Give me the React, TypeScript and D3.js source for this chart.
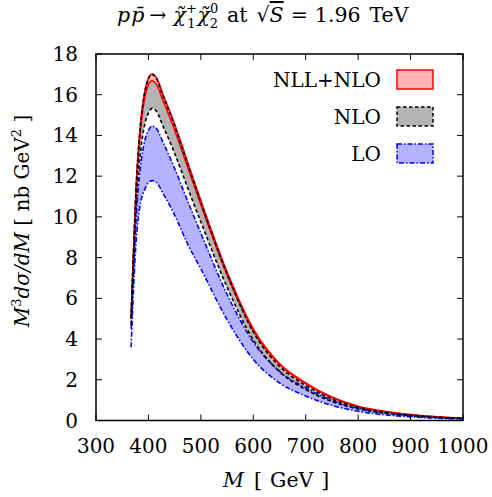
import React from "react";
import * as d3 from "d3";

const masses = [367, 370, 373, 376, 380, 385, 393, 400, 407, 415, 428, 448, 476, 500, 550, 600, 650, 700, 750, 800, 850, 900, 950, 1000];
const nllHi = [5.1, 7.3, 9.3, 11.2, 13.0, 14.6, 16.15, 16.8, 17.02, 16.85, 16.0, 14.7, 12.6, 10.8, 7.3, 4.5, 2.8, 1.85, 1.15, 0.7, 0.45, 0.29, 0.18, 0.11];
const nllLo = [5.0, 7.15, 9.1, 10.95, 12.75, 14.3, 15.85, 16.48, 16.68, 16.52, 15.7, 14.4, 12.35, 10.6, 7.15, 4.4, 2.74, 1.8, 1.12, 0.68, 0.44, 0.28, 0.18, 0.11];
const nloHi = [5.05, 7.25, 9.25, 11.15, 12.95, 14.55, 16.12, 16.8, 17.0, 16.8, 15.93, 14.62, 12.5, 10.7, 7.2, 4.35, 2.66, 1.72, 1.06, 0.65, 0.41, 0.26, 0.16, 0.1];
const nloLo = [4.7, 6.8, 8.6, 10.2, 11.8, 13.2, 14.55, 15.1, 15.33, 15.2, 14.45, 13.25, 11.35, 9.75, 6.55, 3.95, 2.4, 1.52, 0.93, 0.57, 0.36, 0.23, 0.15, 0.09];
const loHi = [4.5, 6.5, 8.2, 9.7, 11.2, 12.5, 13.75, 14.25, 14.46, 14.35, 13.65, 12.5, 10.7, 9.2, 6.2, 3.85, 2.42, 1.6, 0.98, 0.6, 0.38, 0.24, 0.15, 0.1];
const loLo = [3.6, 5.5, 7.2, 8.6, 9.8, 10.7, 11.35, 11.68, 11.78, 11.7, 11.15, 10.2, 8.6, 7.45, 4.95, 3.0, 1.85, 1.2, 0.74, 0.45, 0.28, 0.18, 0.11, 0.07];

const xTicks = [300, 400, 500, 600, 700, 800, 900, 1000];
const yTicks = [0, 2, 4, 6, 8, 10, 12, 14, 16, 18];
const legendLabels = ["NLL+NLO", "NLO", "LO"];

const W = 492, H = 497;
const L = 96, R = 463, T = 54, B = 420.5;
const FONT = "'DejaVu Serif', 'Liberation Serif', serif";

export default function App() {
  const x = d3.scaleLinear().domain([300, 1000]).range([L, R]);
  const y = d3.scaleLinear().domain([0, 18]).range([B, T]);

  const mkArea = (lo: number[], hi: number[]) =>
    d3.area<number>()
      .x((_, i) => x(masses[i]))
      .y0((_, i) => y(lo[i]))
      .y1((_, i) => y(hi[i]))
      .curve(d3.curveMonotoneX)(masses) || "";
  const mkLine = (v: number[]) =>
    d3.line<number>()
      .x((_, i) => x(masses[i]))
      .y((_, i) => y(v[i]))
      .curve(d3.curveMonotoneX)(masses) || "";

  const series = [
    { fill: "#ffb3b3", stroke: "#ff0000", dash: "none", lo: nllLo, hi: nllHi },
    { fill: "#b3b3b3", stroke: "#000000", dash: "3.5,2.5", lo: nloLo, hi: nloHi },
    { fill: "#b3b3ff", stroke: "#0000ff", dash: "5,2,1.5,2", lo: loLo, hi: loHi },
  ];
  const tickLen = 6;

  return (
    <svg width={W} height={H} style={{ position: "absolute", left: 0, top: 0, background: "#fff" }}
      fontFamily={FONT}>
      <defs>
        <clipPath id="plot"><rect x={L} y={T} width={R - L} height={B - T} /></clipPath>
      </defs>
      <rect x={0} y={0} width={W} height={H} fill="#fff" />
      <g clipPath="url(#plot)">
        <path d={mkArea(loLo, loHi)} fill={series[2].fill} />
        <path d={mkArea(nloLo, nloHi)} fill={series[1].fill} />
        <path d={mkArea(nllLo, nllHi)} fill={series[0].fill} />
        {[0, 2, 1].map((k) => {
          const s = series[k];
          return (
            <g key={k}>
              <path d={mkLine(s.lo)} fill="none" stroke={s.stroke} strokeWidth={1.6} strokeDasharray={s.dash} />
              <path d={mkLine(s.hi)} fill="none" stroke={s.stroke} strokeWidth={1.6} strokeDasharray={s.dash} />
            </g>
          );
        })}
      </g>
      <rect x={L} y={T} width={R - L} height={B - T} fill="none" stroke="#000" strokeWidth={1.5} />
      {xTicks.map((t) => (
        <g key={"x" + t}>
          <line x1={x(t)} x2={x(t)} y1={B} y2={B - tickLen} stroke="#000" strokeWidth={1} />
          <line x1={x(t)} x2={x(t)} y1={T} y2={T + tickLen} stroke="#000" strokeWidth={1} />
          <text x={x(t)} y={453} textAnchor="middle" fontSize={20}>{t}</text>
        </g>
      ))}
      {yTicks.map((t) => (
        <g key={"y" + t}>
          <line x1={L} x2={L + tickLen} y1={y(t)} y2={y(t)} stroke="#000" strokeWidth={1} />
          <line x1={R} x2={R - tickLen} y1={y(t)} y2={y(t)} stroke="#000" strokeWidth={1} />
          <text x={78} y={y(t) + 7} textAnchor="end" fontSize={20}>{t}</text>
        </g>
      ))}
      {legendLabels.map((lab, i) => {
        const s = series[i];
        const cy = 79.5 + i * 37;
        return (
          <g key={lab}>
            <text x={381} y={cy + 7} textAnchor="end" fontSize={20}>{lab}</text>
            <rect x={397} y={cy - 9.5} width={36} height={19} fill={s.fill} stroke={s.stroke}
              strokeWidth={1.5} strokeDasharray={s.dash} />
          </g>
        );
      })}
      {/* title */}
      <text x={117} y={22} fontSize={20.5}>
        <tspan fontStyle="italic">p</tspan>
        <tspan fontStyle="italic" dx={1}>p&#772;</tspan>
        <tspan dx={5}>→</tspan>
        <tspan fontStyle="italic" dx={7}>χ&#771;</tspan>
        <tspan fontSize={13} dy={-9}>+</tspan>
        <tspan fontSize={13} dx={-9.5} dy={15}>1</tspan>
        <tspan fontStyle="italic" dx={2} dy={-6}>χ&#771;</tspan>
        <tspan fontSize={13} dy={-9}>0</tspan>
        <tspan fontSize={13} dx={-8.5} dy={15}>2</tspan>
        <tspan dx={9} dy={-6}>at</tspan>
        <tspan dx={9}>√</tspan>
        <tspan fontStyle="italic" textDecoration="overline">S</tspan>
        <tspan dx={7}>=</tspan>
        <tspan dx={7}>1.96</tspan>
        <tspan dx={9}>TeV</tspan>
      </text>
      <text transform="translate(29,221) rotate(-90)" textAnchor="middle" fontSize={20}>
        <tspan fontStyle="italic">M</tspan>
        <tspan fontSize={13} dy={-8}>3</tspan>
        <tspan fontStyle="italic" dy={8}>dσ/dM</tspan>
        <tspan> [ nb GeV</tspan>
        <tspan fontSize={13} dy={-8}>2</tspan>
        <tspan dy={8}> ]</tspan>
      </text>
      <text x={223} y={487} fontSize={20.5}>
        <tspan fontStyle="italic">M</tspan>
        <tspan dx={10}>[</tspan>
        <tspan dx={8}>GeV</tspan>
        <tspan dx={8}>]</tspan>
      </text>
    </svg>
  );
}
